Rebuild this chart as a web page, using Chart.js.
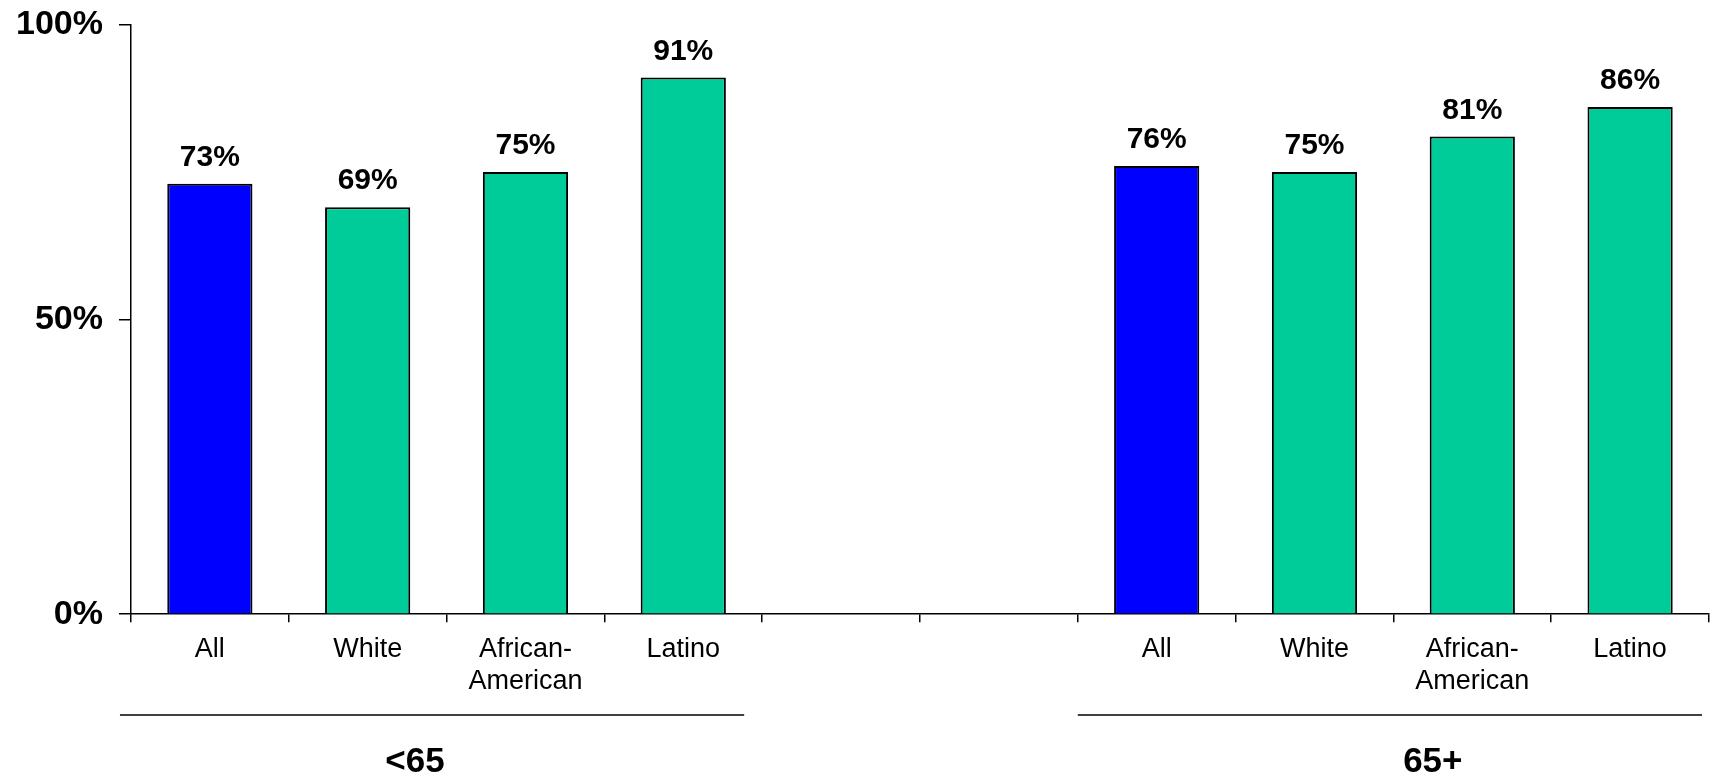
<!DOCTYPE html>
<html>
<head>
<meta charset="utf-8">
<script src="https://cdn.jsdelivr.net/npm/chart.js@4.4.0/dist/chart.umd.min.js"></script>
<style>
  html, body { margin: 0; padding: 0; background: #fff; }
  #wrap { width: 1714px; height: 778px; position: relative; }
</style>
</head>
<body>
<div id="wrap"><canvas id="main-chart"></canvas></div>
<script>
  // categories: two age groups, two empty slots between them
  const categories = ['All', 'White', ['African-', 'American'], 'Latino', '', '',
                      'All', 'White', ['African-', 'American'], 'Latino'];
  const values = [73, 69, 75, 91, null, null, 76, 75, 81, 86];
  const barColors = ['#0000FF', '#00CC99', '#00CC99', '#00CC99', null, null,
                     '#0000FF', '#00CC99', '#00CC99', '#00CC99'];
  const yTicks = [0, 50, 100];
  const groupLabels = ['<65', '65+'];
  const groupRanges = [[0, 3], [6, 9]];

  const FONT = '"Liberation Sans", Arial, sans-serif';
  const INK = '#000000';

  // 막대 위 값 라벨
  const valueLabels = {
    id: 'valueLabels',
    afterDatasetsDraw(chart) {
      const ctx = chart.ctx;
      const meta = chart.getDatasetMeta(0);
      ctx.save();
      ctx.font = 'bold 30px ' + FONT;
      ctx.fillStyle = INK;
      ctx.textAlign = 'center';
      ctx.textBaseline = 'alphabetic';
      meta.data.forEach((bar, i) => {
        const v = values[i];
        if (v == null) return;
        ctx.fillText(v + '%', bar.x, bar.y - 18);
      });
      ctx.restore();
    }
  };

  // 그룹 구분선 + 그룹 라벨
  const groupAxis = {
    id: 'groupAxis',
    afterDraw(chart) {
      const ctx = chart.ctx;
      const x = chart.scales.x;
      const slot = x.getPixelForValue(1) - x.getPixelForValue(0);
      const lineY = 715;
      const textY = 762;
      ctx.save();
      ctx.strokeStyle = INK;
      ctx.lineWidth = 1.5;
      ctx.font = 'bold 35px ' + FONT;
      ctx.fillStyle = INK;
      ctx.textAlign = 'center';
      ctx.textBaseline = 'middle';
      groupRanges.forEach((r, gi) => {
        const left = x.getPixelForValue(r[0]) - slot / 2;
        let x0 = left;
        let x1 = x.getPixelForValue(r[1]) + slot / 2;
        if (gi === 0) { x0 -= 11; x1 -= 18; } else { x1 -= 7; }
        ctx.beginPath();
        ctx.moveTo(x0, lineY);
        ctx.lineTo(x1, lineY);
        ctx.stroke();
        const cx = left + slot * (gi === 0 ? 1.8 : 2.25);
        ctx.fillText(groupLabels[gi], cx, textY);
      });
      ctx.restore();
    }
  };

  new Chart(document.getElementById('main-chart').getContext('2d'), {
    type: 'bar',
    data: {
      labels: categories,
      datasets: [{
        data: values,
        backgroundColor: barColors,
        borderColor: INK,
        borderWidth: 2,
        barPercentage: 0.54,
        categoryPercentage: 1
      }]
    },
    options: {
      responsive: true, maintainAspectRatio: false,
      animation: false,
      layout: { padding: { left: 0, right: 5, top: -2, bottom: 69 } },
      plugins: { legend: { display: false }, tooltip: { enabled: false }, title: { display: false } },
      scales: {
        x: {
          grid: { display: true, drawOnChartArea: false, offset: true, tickLength: 8, color: INK, lineWidth: 1.5 },
          border: { display: true, color: INK, width: 1.5 },
          ticks: { color: INK, font: { family: FONT, size: 27 }, padding: 11, maxRotation: 0, autoSkip: false }
        },
        y: {
          min: 0, max: 100,
          afterBuildTicks: axis => { axis.ticks = yTicks.map(v => ({ value: v })); },
          grid: { display: true, drawOnChartArea: false, tickLength: 12, color: INK, lineWidth: 1.5 },
          border: { display: true, color: INK, width: 1.5 },
          ticks: { color: INK, font: { family: FONT, size: 34, weight: 'bold', lineHeight: 0.5 }, padding: 16, callback: v => v + '%' }
        }
      }
    },
    plugins: [valueLabels, groupAxis]
  });
</script>
</body>
</html>
